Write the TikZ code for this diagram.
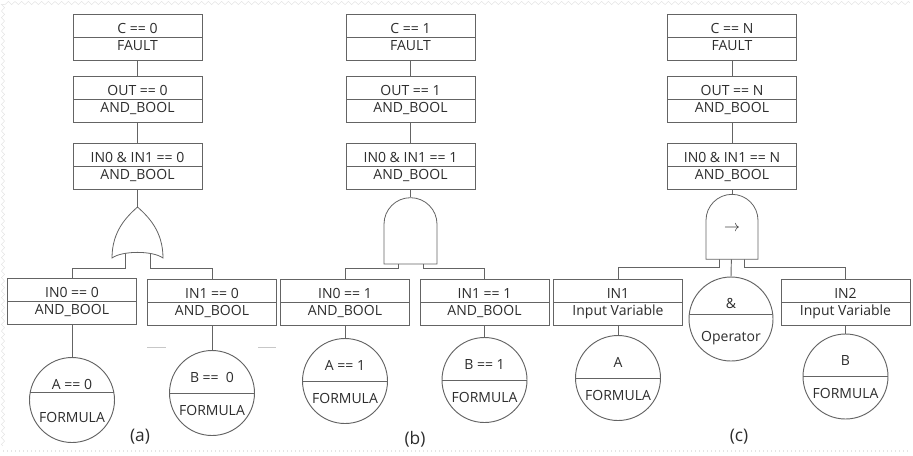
\documentclass[tikz,border=0pt]{standalone}
\usepackage{fontspec}
\setmainfont{Open Sans}
\usetikzlibrary{shapes.gates.logic.US,backgrounds,decorations.pathmorphing}
\definecolor{ftLine}{RGB}{100,100,100}
\definecolor{ftText}{RGB}{45,45,45}
\definecolor{ftFaint}{RGB}{228,228,228}

\begin{document}
\begin{tikzpicture}[
  x=0.75pt, y=-0.75pt,
  event/.style={rectangle, draw=ftLine, line width=0.7pt, fill=white, text=ftText,
                minimum width=96.75pt, inner xsep=2pt, inner ysep=0pt,
                text height=27.3pt, text depth=7.2pt, align=center,
                font=\fontsize{10.5}{13}\selectfont,
                path picture={\draw[ftLine, line width=0.7pt]
                  ([yshift=-17.25pt]path picture bounding box.north west) --
                  ([yshift=-17.25pt]path picture bounding box.north east);}},
  basic/.style={circle, draw=ftLine, line width=0.7pt, fill=white, text=ftText,
                minimum size=63.75pt, inner sep=0pt, align=center,
                text height=35pt, text depth=2pt,
                font=\fontsize{10.5}{24.75}\selectfont,
                path picture={\draw[ftLine, line width=0.7pt]
                  ([yshift=#1]path picture bounding box.west) --
                  ([yshift=#1]path picture bounding box.east);}},
  basic/.default=0pt,
  orbox/.style={rectangle, inner sep=0pt, outer sep=0pt,
                minimum width=38.25pt, minimum height=38.25pt},
  gateline/.style={draw=ftLine, line width=0.6pt, fill=white},
  andgate/.style={and gate US, gateline, rotate=90,
                  inner sep=0pt, minimum width=39pt, minimum height=39.75pt},
  wire/.style={draw=ftLine, line width=0.7pt},
  caption/.style={text=ftText, font=\fontsize{13}{15}\selectfont},
]
\useasboundingbox (0,0) rectangle (913,455);

% faint frame of the scan
\draw[ftFaint, decorate, decoration={zigzag, amplitude=1.2, segment length=5}]
     (3,446) -- (3,3) -- (910,3);
\draw[ftFaint, dotted, line width=1pt] (3,451) -- (910,451);

%%──────────────────────────────────────────────────────────────────
%% TOP CHAINS: FAULT -> OUT -> IN0 & IN1 (one per panel)
%%──────────────────────────────────────────────────────────────────
\foreach \p/\cx/\v in {a/137.5/0, b/410.5/1, c/732/N}{
  \node[event] (top\p) at (\cx,37)  {C == \v\\FAULT};
  \node[event] (out\p) at (\cx,99)  {OUT == \v\\AND\_BOOL};
  \node[event] (in\p)  at (\cx,166) {IN0 \& IN1 == \v\\AND\_BOOL};
  \draw[wire] (top\p) -- (out\p);
  \draw[wire] (out\p) -- (in\p);
}

% bus levels under the gates
\coordinate (busA) at (0,268);
\coordinate (busB) at (0,268);
\coordinate (busC) at (0,267);

%%──────────────────────────────────────────────────────────────────
%% PANEL (a): OR gate
%%──────────────────────────────────────────────────────────────────
\node[orbox] (gA) at (137.5,232.5) {};
% pointed-arch OR outline on the box
\draw[gateline] (gA.north)
     .. controls +(10,9) and +(0,-27.5) .. (gA.south east)
     .. controls +(-10.5,-7.5) and +(10.5,-7.5) .. (gA.south west)
     .. controls +(0,-27.5) and +(-10,9) .. (gA.north);
\draw[wire] (ina.south) -- (gA.north);

\node[event] (a0) at (72,301)  {IN0 == 0\\AND\_BOOL};
\node[event] (a1) at (212,302) {IN1 == 0\\AND\_BOOL};
\node[basic=5.6pt] (fa0) at (72,400)  {A == 0\\FORMULA};
\node[basic]       (fa1) at (212,393) {B == \ 0\\FORMULA};
\draw[wire] (a0) -- (fa0);
\draw[wire] (a1) -- (fa1);

% stray marks beside B
\draw[black!22, line width=0.6pt] (147,347.5) -- (166,347.5);
\draw[black!22, line width=0.6pt] (258,347.5) -- (276,347.5);

\node[caption] (capA) at (140,437) {(a)};

%%──────────────────────────────────────────────────────────────────
%% PANEL (b): AND gate
%%──────────────────────────────────────────────────────────────────
\node[andgate] (gB) at (410.5,233) {};
\draw[wire] (inb.south) -- (gB.output);

\node[event] (b0) at (345,302.5)   {IN0 == 1\\AND\_BOOL};
\node[event] (b1) at (484.5,302.5) {IN1 == 1\\AND\_BOOL};
\node[basic] (fb0) at (345,381)   {A == 1\\FORMULA};
\node[basic] (fb1) at (484.5,380) {B == 1\\FORMULA};
\draw[wire] (b0) -- (fb0);
\draw[wire] (b1) -- (fb1);

\node[caption] (capB) at (415,439) {(b)};

%%──────────────────────────────────────────────────────────────────
%% PANEL (c): operator gate
%%──────────────────────────────────────────────────────────────────
\node[andgate, minimum width=39pt, minimum height=39pt] (gC) at (732,229) {};
\node[text=ftText, font=\fontsize{13}{15}\selectfont] (opC) at (gC.center) {$\rightarrow$};
\draw[wire] (inc.south) -- (gC.output);

\node[event] (c1) at (618,302.5)   {IN1\\Input Variable};
\node[event] (c2) at (845.5,302.5) {IN2\\Input Variable};
\node[basic=3.75pt, minimum size=63pt] (amp) at (731,319) {\&\\Operator};
\node[basic] (fc1) at (618,378)   {A\\FORMULA};
\node[basic] (fc2) at (845.5,376.5) {B\\FORMULA};
\draw[wire] (c1) -- (fc1);
\draw[wire] (c2) -- (fc2);

\node[caption] (capC) at (739,437) {(c)};

% gate legs, kept behind the gate bodies
\begin{scope}[on background layer]
  \draw[wire] ([xshift=-9.4pt]gA.center) |- (a0.north |- busA) -- (a0.north);
  \draw[wire] ([xshift=9.4pt]gA.center)  |- (a1.north |- busA) -- (a1.north);
  \draw[wire] ([xshift=-9.4pt]gB.center) |- (b0.north |- busB) -- (b0.north);
  \draw[wire] ([xshift=9.4pt]gB.center)  |- (b1.north |- busB) -- (b1.north);
  \draw[wire] ([xshift=-9.4pt]gC.center) |- (c1.north |- busC) -- (c1.north);
  \draw[wire] ([xshift=9.4pt]gC.center)  |- (c2.north |- busC) -- (c2.north);
  \draw[wire] (gC.center) -- (amp.north);
\end{scope}

\end{tikzpicture}
\end{document}
